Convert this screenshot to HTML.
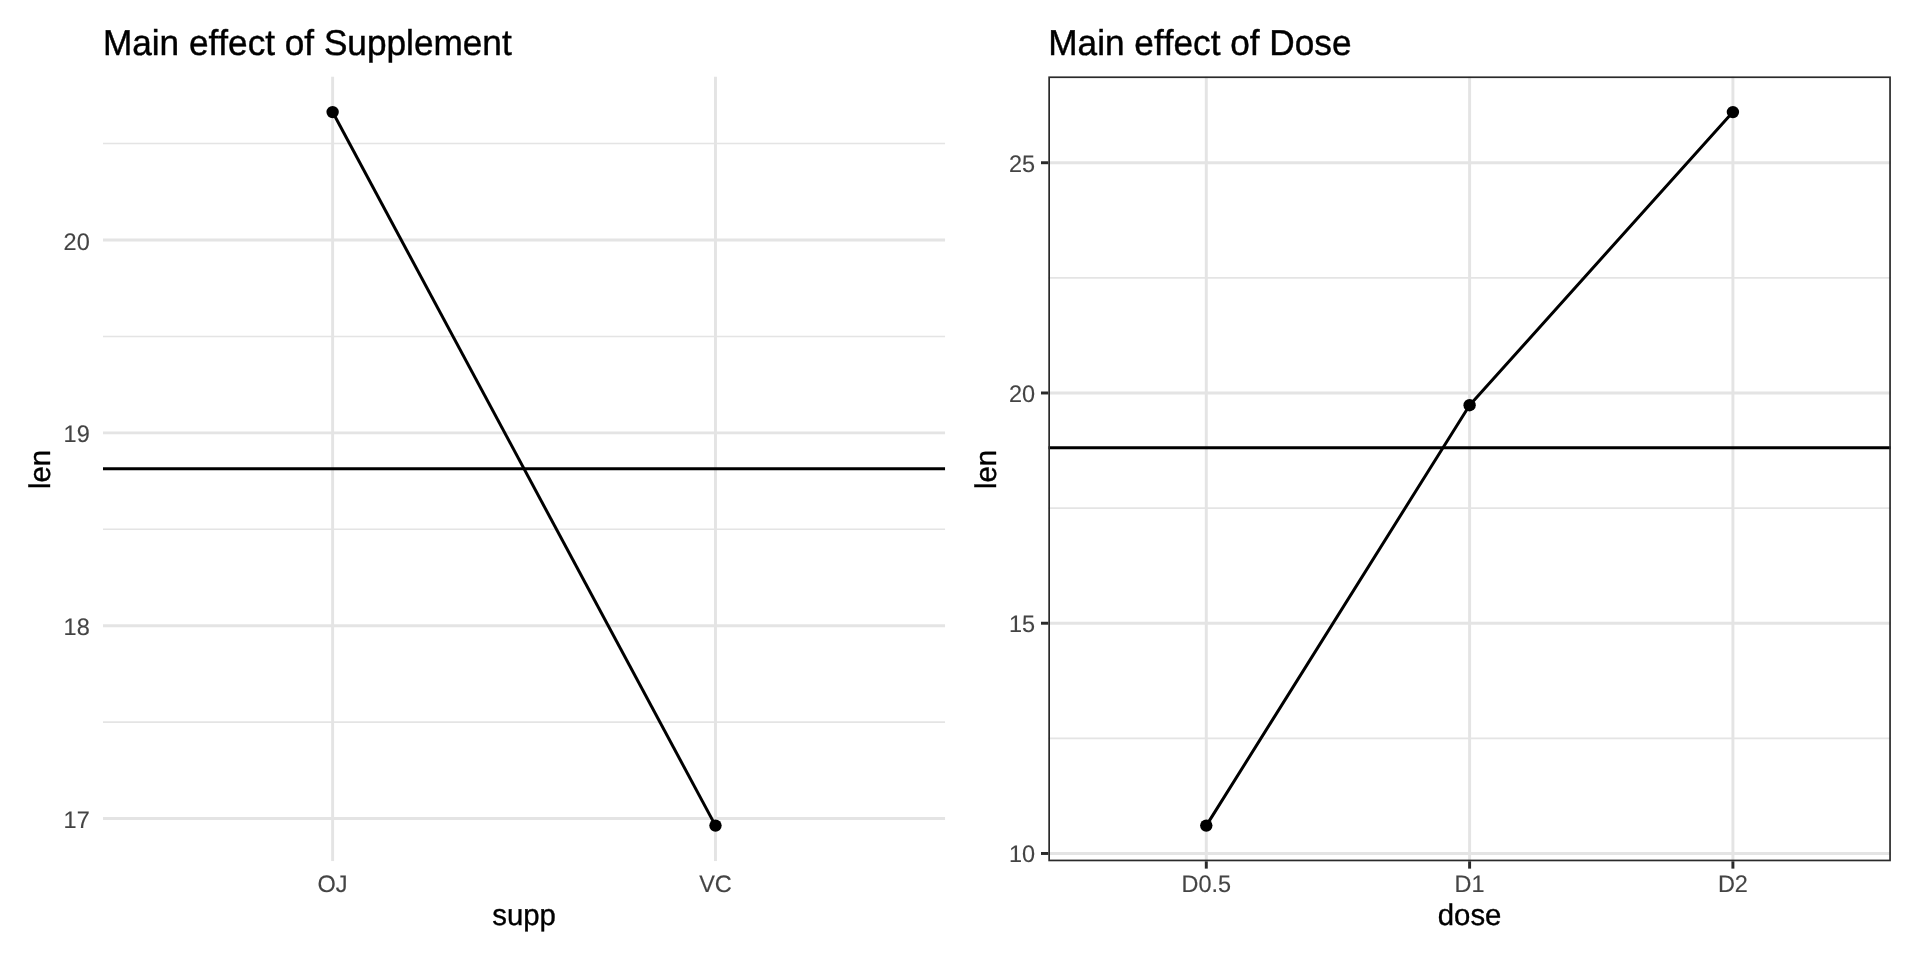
<!DOCTYPE html><html><head><meta charset="utf-8"><style>html,body{margin:0;padding:0;background:#fff;width:1920px;height:960px;overflow:hidden}svg{display:block;font-family:"Liberation Sans",sans-serif;font-kerning:none;will-change:transform;text-rendering:geometricPrecision}</style></head><body>
<svg width="1920" height="960" viewBox="0 0 1920 960">
<rect width="1920" height="960" fill="#fff"/>
<defs><clipPath id="c1"><rect x="102.90" y="76.40" width="842.30" height="784.90"/></clipPath><clipPath id="c2"><rect x="1048.30" y="76.40" width="842.60" height="784.90"/></clipPath></defs>
<g clip-path="url(#c1)">
<line x1="102.90" x2="945.20" y1="722.13" y2="722.13" stroke="#E4E4E4" stroke-width="1.55"/>
<line x1="102.90" x2="945.20" y1="529.28" y2="529.28" stroke="#E4E4E4" stroke-width="1.55"/>
<line x1="102.90" x2="945.20" y1="336.43" y2="336.43" stroke="#E4E4E4" stroke-width="1.55"/>
<line x1="102.90" x2="945.20" y1="143.58" y2="143.58" stroke="#E4E4E4" stroke-width="1.55"/>
<line x1="102.90" x2="945.20" y1="818.55" y2="818.55" stroke="#E4E4E4" stroke-width="2.95"/>
<line x1="102.90" x2="945.20" y1="625.70" y2="625.70" stroke="#E4E4E4" stroke-width="2.95"/>
<line x1="102.90" x2="945.20" y1="432.85" y2="432.85" stroke="#E4E4E4" stroke-width="2.95"/>
<line x1="102.90" x2="945.20" y1="240.00" y2="240.00" stroke="#E4E4E4" stroke-width="2.95"/>
<line x1="332.62" x2="332.62" y1="76.40" y2="861.30" stroke="#E4E4E4" stroke-width="2.95"/>
<line x1="715.48" x2="715.48" y1="76.40" y2="861.30" stroke="#E4E4E4" stroke-width="2.95"/>
<line x1="102.90" x2="945.20" y1="468.85" y2="468.85" stroke="#000" stroke-width="3.0"/>
<polyline points="332.62,112.08 715.48,825.62" fill="none" stroke="#000" stroke-width="3.0" stroke-linejoin="round"/>
<circle cx="332.62" cy="112.08" r="6.2" fill="#000"/>
<circle cx="715.48" cy="825.62" r="6.2" fill="#000"/>
</g>
<g clip-path="url(#c2)">
<line x1="1048.30" x2="1890.90" y1="738.36" y2="738.36" stroke="#E4E4E4" stroke-width="1.55"/>
<line x1="1048.30" x2="1890.90" y1="508.11" y2="508.11" stroke="#E4E4E4" stroke-width="1.55"/>
<line x1="1048.30" x2="1890.90" y1="277.86" y2="277.86" stroke="#E4E4E4" stroke-width="1.55"/>
<line x1="1048.30" x2="1890.90" y1="853.48" y2="853.48" stroke="#E4E4E4" stroke-width="2.95"/>
<line x1="1048.30" x2="1890.90" y1="623.23" y2="623.23" stroke="#E4E4E4" stroke-width="2.95"/>
<line x1="1048.30" x2="1890.90" y1="392.98" y2="392.98" stroke="#E4E4E4" stroke-width="2.95"/>
<line x1="1048.30" x2="1890.90" y1="162.73" y2="162.73" stroke="#E4E4E4" stroke-width="2.95"/>
<line x1="1206.29" x2="1206.29" y1="76.40" y2="861.30" stroke="#E4E4E4" stroke-width="2.95"/>
<line x1="1469.60" x2="1469.60" y1="76.40" y2="861.30" stroke="#E4E4E4" stroke-width="2.95"/>
<line x1="1732.91" x2="1732.91" y1="76.40" y2="861.30" stroke="#E4E4E4" stroke-width="2.95"/>
<line x1="1048.30" x2="1890.90" y1="447.63" y2="447.63" stroke="#000" stroke-width="3.0"/>
<polyline points="1206.29,825.62 1469.60,405.19 1732.91,112.08" fill="none" stroke="#000" stroke-width="3.0" stroke-linejoin="round"/>
<circle cx="1206.29" cy="825.62" r="6.2" fill="#000"/>
<circle cx="1469.60" cy="405.19" r="6.2" fill="#000"/>
<circle cx="1732.91" cy="112.08" r="6.2" fill="#000"/>
</g>
<rect x="1049.15" y="77.25" width="840.90" height="783.20" fill="none" stroke="#2a2a2a" stroke-width="1.7"/>
<line x1="1040.97" x2="1048.30" y1="853.48" y2="853.48" stroke="#2a2a2a" stroke-width="2.95"/>
<line x1="1040.97" x2="1048.30" y1="623.23" y2="623.23" stroke="#2a2a2a" stroke-width="2.95"/>
<line x1="1040.97" x2="1048.30" y1="392.98" y2="392.98" stroke="#2a2a2a" stroke-width="2.95"/>
<line x1="1040.97" x2="1048.30" y1="162.73" y2="162.73" stroke="#2a2a2a" stroke-width="2.95"/>
<line x1="1206.29" x2="1206.29" y1="861.30" y2="868.63" stroke="#2a2a2a" stroke-width="2.95"/>
<line x1="1469.60" x2="1469.60" y1="861.30" y2="868.63" stroke="#2a2a2a" stroke-width="2.95"/>
<line x1="1732.91" x2="1732.91" y1="861.30" y2="868.63" stroke="#2a2a2a" stroke-width="2.95"/>
<text transform="translate(102.90,55.00) scale(1,1.02)" font-size="35.2" fill="#000" stroke="#000" stroke-width="0.422" text-anchor="start">Main effect of Supplement</text>
<text transform="translate(1048.30,55.00) scale(1,1.02)" font-size="35.2" fill="#000" stroke="#000" stroke-width="0.422" text-anchor="start">Main effect of Dose</text>
<text transform="translate(89.70,828.25) scale(1,1.02)" font-size="23.47" fill="#444444" stroke="#444444" stroke-width="0.15" text-anchor="end">17</text>
<text transform="translate(89.70,635.25) scale(1,1.02)" font-size="23.47" fill="#444444" stroke="#444444" stroke-width="0.15" text-anchor="end">18</text>
<text transform="translate(89.70,442.25) scale(1,1.02)" font-size="23.47" fill="#444444" stroke="#444444" stroke-width="0.15" text-anchor="end">19</text>
<text transform="translate(89.70,249.50) scale(1,1.02)" font-size="23.47" fill="#444444" stroke="#444444" stroke-width="0.15" text-anchor="end">20</text>
<text transform="translate(1035.10,862.35) scale(1,1.02)" font-size="23.47" fill="#444444" stroke="#444444" stroke-width="0.15" text-anchor="end">10</text>
<text transform="translate(1035.10,632.35) scale(1,1.02)" font-size="23.47" fill="#444444" stroke="#444444" stroke-width="0.15" text-anchor="end">15</text>
<text transform="translate(1035.10,402.35) scale(1,1.02)" font-size="23.47" fill="#444444" stroke="#444444" stroke-width="0.15" text-anchor="end">20</text>
<text transform="translate(1035.10,172.35) scale(1,1.02)" font-size="23.47" fill="#444444" stroke="#444444" stroke-width="0.15" text-anchor="end">25</text>
<text transform="translate(332.62,892.00) scale(1,1.02)" font-size="23.47" fill="#444444" stroke="#444444" stroke-width="0.15" text-anchor="middle">OJ</text>
<text transform="translate(715.48,892.00) scale(1,1.02)" font-size="23.47" fill="#444444" stroke="#444444" stroke-width="0.15" text-anchor="middle">VC</text>
<text transform="translate(1206.29,892.00) scale(1,1.02)" font-size="23.47" fill="#444444" stroke="#444444" stroke-width="0.15" text-anchor="middle">D0.5</text>
<text transform="translate(1469.60,892.00) scale(1,1.02)" font-size="23.47" fill="#444444" stroke="#444444" stroke-width="0.15" text-anchor="middle">D1</text>
<text transform="translate(1732.91,892.00) scale(1,1.02)" font-size="23.47" fill="#444444" stroke="#444444" stroke-width="0.15" text-anchor="middle">D2</text>
<text transform="translate(524.05,925.00) scale(1,1.02)" font-size="29.33" fill="#000" stroke="#000" stroke-width="0.352" text-anchor="middle">supp</text>
<text transform="translate(1469.60,925.00) scale(1,1.02)" font-size="29.33" fill="#000" stroke="#000" stroke-width="0.352" text-anchor="middle">dose</text>
<text transform="translate(50.00,469.55) rotate(-90) scale(1,1.02)" font-size="29.33" fill="#000" stroke="#000" stroke-width="0.352" text-anchor="middle">len</text>
<text transform="translate(995.60,469.55) rotate(-90) scale(1,1.02)" font-size="29.33" fill="#000" stroke="#000" stroke-width="0.352" text-anchor="middle">len</text>
</svg></body></html>
